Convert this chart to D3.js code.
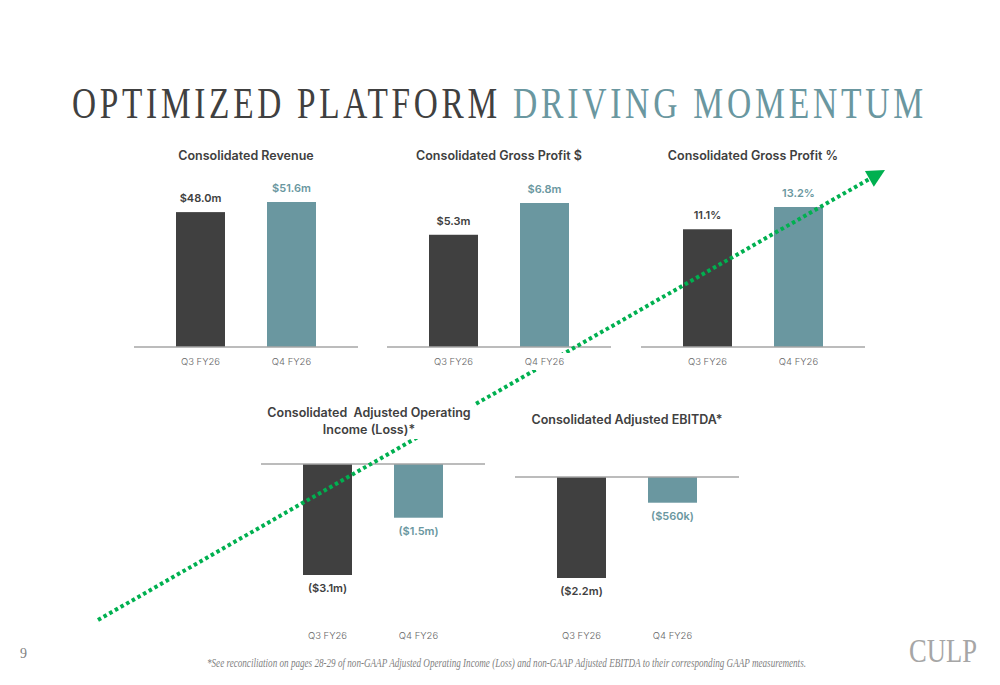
<!DOCTYPE html>
<html>
<head>
<meta charset="utf-8">
<script src="https://cdn.jsdelivr.net/npm/d3@7"></script>
<style>
  body { margin: 0; background: #fff; }
  svg { display: block; }
</style>
</head>
<body>
<script>
const width = 1000;
const height = 685;

// data
const categories = ["Q3 FY26", "Q4 FY26"];
const revenue = [48.0, 51.6];        // $m
const grossProfit = [5.3, 6.8];      // $m
const grossMargin = [11.1, 13.2];    // %
const adjOpIncome = [-3.1, -1.5];    // $m
const adjEbitda = [-2.2, -0.56];     // $m

const dark = "#404040";
const teal = "#6a97a0";
const barColors = [dark, teal];
const sans = "Inter, 'Open Sans', sans-serif";
const serif = "'Liberation Serif', 'DejaVu Serif', serif";

function fmtMoney(v) {
    const a = Math.abs(v);
    const s = a < 1 ? `$${Math.round(a * 1000)}k` : `$${a.toFixed(1)}m`;
    return v < 0 ? `(${s})` : s;
}
const fmtPct = v => `${v.toFixed(1)}%`;

// panel layout
const panels = [
    { title: ["Consolidated Revenue"], values: revenue, fmt: fmtMoney, cx: 246, base: 347, h: 145, titleY: 160, catY: 365 },
    { title: ["Consolidated Gross Profit $"], values: grossProfit, fmt: fmtMoney, cx: 499, base: 347, h: 144, titleY: 160, catY: 365 },
    { title: ["Consolidated Gross Profit %"], values: grossMargin, fmt: fmtPct, cx: 753, base: 347, h: 140, titleY: 160, catY: 365 },
    { title: ["Consolidated  Adjusted Operating", "Income (Loss)*"], values: adjOpIncome, fmt: fmtMoney, cx: 373, base: 464, h: 111, titleY: 417, catY: 639, titleCx: 369 },
    { title: ["Consolidated Adjusted EBITDA*"], values: adjEbitda, fmt: fmtMoney, cx: 627, base: 477, h: 101, titleY: 424, catY: 639 }
];

const svg = d3.select("body").append("svg")
    .attr("width", width)
    .attr("height", height);

// squeeze a text horizontally so it spans w pixels starting at x
function fitWidth(sel, x, y, w) {
    sel.attr("x", 0).attr("y", 0);
    const natural = sel.node().getBBox().width;
    sel.attr("transform", `translate(${x},${y}) scale(${w / natural},1)`);
}

// main title, two colours
const titleParts = [
    { text: "OPTIMIZED PLATFORM", color: dark, x: 72, w: 424 },
    { text: "DRIVING MOMENTUM", color: teal, x: 513, w: 409 }
];
titleParts.forEach(d => {
    const t = svg.append("text")
        .attr("font-family", serif)
        .attr("font-size", 45)
        .attr("letter-spacing", 5)
        .attr("fill", d.color)
        .text(d.text);
    fitWidth(t, d.x, 118, d.w + 5);
});

const barLayer = svg.append("g");
const arrowLayer = svg.append("g");
const textLayer = svg.append("g");

panels.forEach(p => {
    const x = d3.scalePoint().domain(categories).range([p.cx - 45.5, p.cx + 45.5]);
    const y = d3.scaleLinear()
        .domain([0, d3.max(p.values, v => Math.abs(v))])
        .range([0, p.h]);
    const barW = 49;

    const g = barLayer.append("g");
    g.selectAll("rect")
        .data(p.values)
        .join("rect")
        .attr("x", (d, i) => x(categories[i]) - barW / 2)
        .attr("width", barW)
        .attr("y", d => d >= 0 ? p.base - y(d) : p.base)
        .attr("height", d => y(Math.abs(d)))
        .attr("fill", (d, i) => barColors[i]);

    g.append("line")
        .attr("x1", p.cx - 112)
        .attr("x2", p.cx + 112)
        .attr("y1", p.base)
        .attr("y2", p.base)
        .attr("stroke", "#a6a6a6")
        .attr("stroke-width", 1.5);

    const tg = textLayer.append("g");

    // value labels
    tg.selectAll("text.value")
        .data(p.values)
        .join("text")
        .attr("class", "value")
        .attr("x", (d, i) => x(categories[i]))
        .attr("y", d => d >= 0 ? p.base - y(d) - 10 : p.base + y(-d) + 17)
        .attr("text-anchor", "middle")
        .attr("font-family", sans)
        .attr("font-size", 11)
        .attr("font-weight", 600)
        .attr("fill", (d, i) => barColors[i])
        .text(d => p.fmt(d));

    // category labels, each on a white box so the arrow passes under it
    categories.forEach(c => {
        const lg = tg.append("g");
        const t = lg.append("text")
            .attr("x", x(c))
            .attr("y", p.catY)
            .attr("text-anchor", "middle")
            .attr("font-family", sans)
            .attr("font-size", 9.5)
            .attr("font-weight", 300)
            .attr("fill", "#666")
            .text(c);
        const b = t.node().getBBox();
        lg.insert("rect", "text")
            .attr("x", b.x - 5).attr("y", b.y - 3)
            .attr("width", b.width + 10).attr("height", b.height + 6)
            .attr("fill", "#fff");
    });

    // panel title
    const ttg = tg.append("g");
    ttg.selectAll("text")
        .data(p.title)
        .join("text")
        .attr("x", p.titleCx || p.cx)
        .attr("y", (d, i) => p.titleY + i * 17)
        .attr("text-anchor", "middle")
        .attr("font-family", sans)
        .attr("font-size", 12.5)
        .attr("font-weight", 600)
        .attr("fill", dark)
        .style("white-space", "pre")
        .text(d => d);
    const tb = ttg.node().getBBox();
    ttg.insert("rect", "text")
        .attr("x", tb.x - 4).attr("y", tb.y - 3)
        .attr("width", tb.width + 8).attr("height", tb.height + 5)
        .attr("fill", "#fff");
});

// green dotted trend arrow
const start = [98, 620];
const tip = [885, 170];
const ang = Math.atan2(tip[1] - start[1], tip[0] - start[0]);
const headLen = 18;
const lineEnd = [tip[0] - Math.cos(ang) * headLen * 0.8, tip[1] - Math.sin(ang) * headLen * 0.8];
arrowLayer.append("line")
    .attr("x1", start[0]).attr("y1", start[1])
    .attr("x2", lineEnd[0]).attr("y2", lineEnd[1])
    .attr("stroke", "#00b050")
    .attr("stroke-width", 4)
    .attr("stroke-dasharray", "3.5 3");
arrowLayer.append("path")
    .attr("transform", `translate(${tip[0]},${tip[1]}) rotate(${ang * 180 / Math.PI})`)
    .attr("d", `M0,0 L${-headLen},${-9} L${-headLen},${9} Z`)
    .attr("fill", "#00b050");

// footer
svg.append("text")
    .attr("x", 20).attr("y", 658)
    .attr("font-family", serif)
    .attr("font-size", 14)
    .attr("fill", "#7f7f7f")
    .text("9");

const foot = svg.append("text")
    .attr("font-family", serif)
    .attr("font-style", "italic")
    .attr("font-size", 12)
    .attr("fill", "#7f7f7f")
    .text("*See reconciliation on pages 28-29 of non-GAAP Adjusted Operating Income (Loss) and non-GAAP Adjusted EBITDA to their corresponding GAAP measurements.");
fitWidth(foot, 207, 667, 600);

const culp = svg.append("text")
    .attr("font-family", serif)
    .attr("font-size", 34)
    .attr("fill", "#a6a6a6")
    .text("CULP");
fitWidth(culp, 909, 662, 68);
</script>
</body>
</html>
